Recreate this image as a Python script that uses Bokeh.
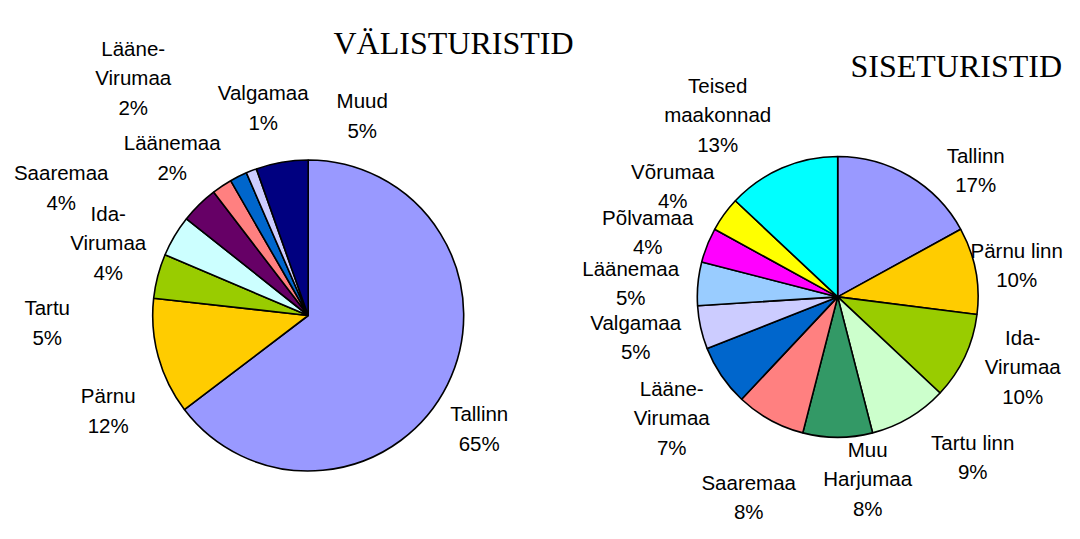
import math
from bokeh.plotting import figure
from bokeh.models import Range1d, ColumnDataSource
from bokeh.core.properties import value
from bokeh.embed import file_html
from bokeh.resources import INLINE

# ---------------- data ----------------
left_title = "VÄLISTURISTID"
left_names = ["Tallinn", "Pärnu", "Tartu", "Ida-\nVirumaa", "Saaremaa", "Läänemaa",
              "Lääne-\nVirumaa", "Valgamaa", "Muud"]
left_values = [64.6, 12.1, 4.6, 4.3, 3.9, 2.1, 1.8, 1.1, 5.4]
left_colors = ["#9999FF", "#FFCC00", "#99CC00", "#CCFFFF", "#660066", "#FF8080",
               "#0066CC", "#CCCCFF", "#000080"]

right_title = "SISETURISTID"
right_names = ["Tallinn", "Pärnu linn", "Ida-\nVirumaa", "Tartu linn", "Muu\nHarjumaa",
               "Saaremaa", "Lääne-\nVirumaa", "Valgamaa", "Läänemaa", "Põlvamaa",
               "Võrumaa", "Teised\nmaakonnad"]
right_values = [17, 10, 10, 9, 8, 8, 7, 5, 5, 4, 4, 13]
right_colors = ["#9999FF", "#FFCC00", "#99CC00", "#CCFFCC", "#339966", "#FF8080",
                "#0066CC", "#CCCCFF", "#99CCFF", "#FF00FF", "#FFFF00", "#00FFFF"]

# ---------------- layout (screen pixels, y downward) ----------------
left_center, left_radius = (307.7, 315.0), 155.5
right_center, right_radius = (837.2, 296.4), 140.4
# label centres as offsets from pie centre
left_label_off = [(171, 113), (-200, 95), (-261, 7), (-200, -73), (-247, -128),
                  (-136, -158), (-175, -238), (-45, -208), (54, -200)]
right_label_off = [(138, -127), (179, -32), (185, 70), (135, 160), (30, 182),
                   (-89, 200), (-166, 121), (-202, 40), (-207, -14), (-190, -65),
                   (-165, -111), (-120, -182)]
title_pos = {"left": (333, 42), "right": (850, 65)}
LINE_STEP = 29.5

W, H = 1064, 523
p = figure(width=W, height=H, output_backend="svg", toolbar_location=None,
           x_range=Range1d(0, W), y_range=Range1d(-H, 0),
           min_border=0)
p.axis.visible = False
p.grid.visible = False
p.outline_line_color = None
p.background_fill_color = "white"


def draw_pie(center, radius, names, values, colors, offsets):
    total = float(sum(values))
    starts, ends = [], []
    cum = 0.0
    for v in values:
        starts.append(math.pi / 2 - 2 * math.pi * cum / total)
        cum += v
        ends.append(math.pi / 2 - 2 * math.pi * cum / total)
    src = ColumnDataSource(dict(x=[center[0]] * len(values), y=[-center[1]] * len(values),
                                start=starts, end=ends, color=colors))
    p.wedge(x="x", y="y", radius=radius, start_angle="start", end_angle="end",
            direction="clock", fill_color="color", line_color="black",
            line_width=1.6, source=src)
    xs, ys, ts = [], [], []
    for name, v, (dx, dy) in zip(names, values, offsets):
        lines = name.split("\n") + [f"{round(v / total * 100)}%"]
        n = len(lines)
        for i, t in enumerate(lines):
            xs.append(center[0] + dx)
            ys.append(-(center[1] + dy + (i - (n - 1) / 2) * LINE_STEP))
            ts.append(t)
    p.text(x=xs, y=ys, text=ts, text_align="center", text_baseline="middle",
           text_font=value("Liberation Sans"), text_font_size="20.5px",
           text_color="black")


draw_pie(left_center, left_radius, left_names, left_values, left_colors, left_label_off)
draw_pie(right_center, right_radius, right_names, right_values, right_colors, right_label_off)

for key, t in (("left", left_title), ("right", right_title)):
    x, y = title_pos[key]
    p.text(x=[x], y=[-y], text=[t], text_align="left", text_baseline="alphabetic",
           text_font=value("Liberation Serif"), text_font_size="32px", text_color="black")

open("out.html", "w").write(file_html(p, INLINE))
